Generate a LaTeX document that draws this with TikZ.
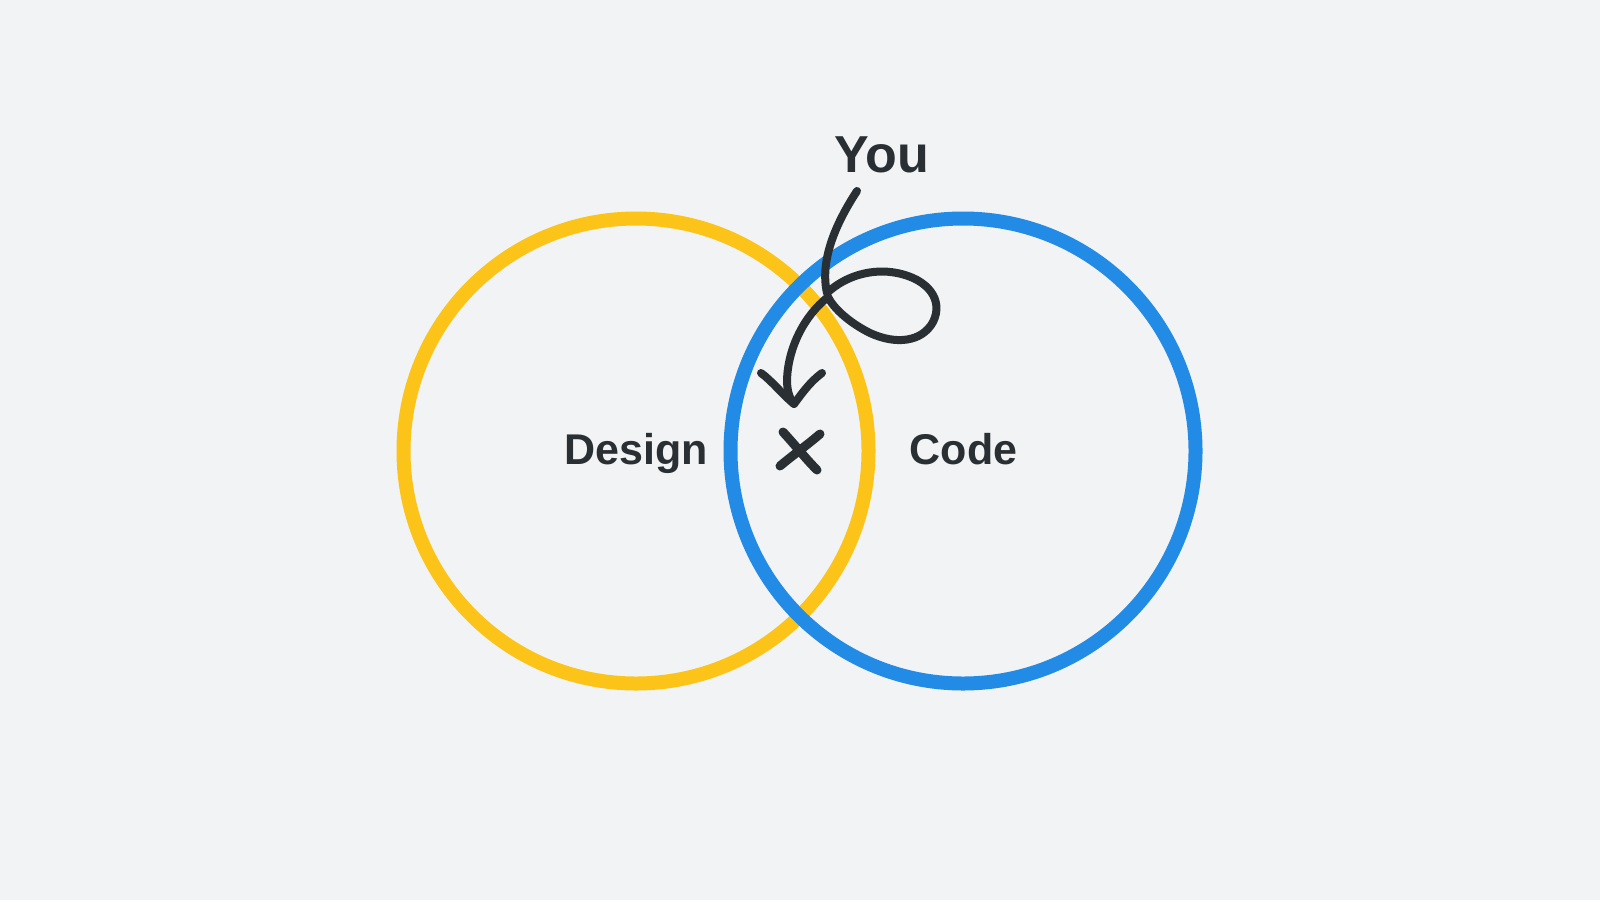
\documentclass[tikz,border=0pt]{standalone}
\usepackage{fontspec}
\setmainfont{Liberation Sans}
\definecolor{bgc}{HTML}{F1F3F5}
\definecolor{ylw}{HTML}{FCC419}
\definecolor{blu}{HTML}{228BE6}
\definecolor{ink}{HTML}{2A2F33}
\tikzset{
  ring/.style={circle, draw=#1, line width=14pt, minimum size=465pt, inner sep=0pt},
  label/.style={text=ink, font=\bfseries\fontsize{43}{50}\selectfont, anchor=base, inner sep=0pt},
  ink stroke/.style={draw=ink, line cap=round, line join=round, line width=#1},
}
\begin{document}
\begin{tikzpicture}[x=1pt,y=-1pt]
\useasboundingbox (0,0) rectangle (1600,900);
\fill[bgc] (0,0) rectangle (1600,900);
\node[ring=ylw] (design) at (636,451) {};
\node[ring=blu] (code) at (963,451) {};
\node[label] (tdesign) at (636,464) {Design};
\node[label] (tcode) at (963.5,464) {Code};
\node[label, font=\bfseries\fontsize{52}{60}\selectfont] (you) at (882,172) {You};
% hand drawn arrow
\coordinate (s) at (857,191);
\coordinate (k) at (827,293);
\coordinate (tip) at (794,404);
\draw[ink stroke=8pt] (s) .. controls (834,226) and (820,262) .. (k)
  .. controls (845,276) and (872,268) .. (897,273)
  .. controls (928,279) and (944,300) .. (933,322)
  .. controls (922,342) and (896,345) .. (870,333)
  .. controls (850,323) and (834,309) .. (828,297)
  .. controls (804,316) and (788,348) .. (787,380)
  .. controls (787,392) and (790,399) .. (tip);
\coordinate (bl) at (761,373);
\coordinate (br) at (822,373);
\draw[ink stroke=8pt] (bl) .. controls (772,381) and (783,395) .. (tip)
  .. controls (803,392) and (810,382) .. (br);
% X mark
\coordinate (xa) at (783,432);
\coordinate (xb) at (817,470);
\coordinate (xc) at (820,434);
\coordinate (xd) at (780,466);
\draw[ink stroke=9pt] (xa) .. controls (796,446) and (805,458) .. (xb);
\draw[ink stroke=9pt] (xc) .. controls (806,446) and (793,455) .. (xd);
\end{tikzpicture}
\end{document}
